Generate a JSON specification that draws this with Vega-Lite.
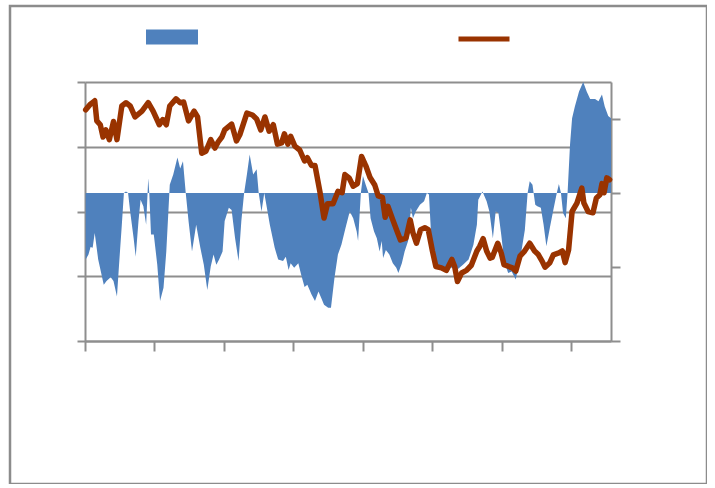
{
  "$schema": "https://vega.github.io/schema/vega-lite/v6.json",
  "width": 697,
  "height": 478,
  "autosize": {"type": "none"},
  "padding": {"left": 10, "top": 6, "right": 0, "bottom": 0},
  "background": "white",
  "config": {
    "view": {"stroke": "#8c8c8c", "strokeWidth": 2.5},
    "axis": {
      "domainColor": "#8e8e8e", "domainWidth": 2,
      "tickColor": "#8e8e8e", "tickWidth": 2,
      "gridColor": "#8e8e8e", "gridWidth": 2,
      "labels": false, "title": null
    }
  },
  "datasets": {
    "area": [
      {"t":0.01,"v":-0.90},{"t":0.05,"v":-0.83},{"t":0.08,"v":-0.73},{"t":0.11,"v":-0.74},{"t":0.14,"v":-0.54},{"t":0.19,"v":-0.90},{"t":0.27,"v":-1.24},{"t":0.31,"v":-1.19},{"t":0.37,"v":-1.14},{"t":0.41,"v":-1.19},{"t":0.46,"v":-1.40},{"t":0.49,"v":-0.97},{"t":0.53,"v":-0.43},{"t":0.56,"v":0},{"t":0.59,"v":0.02},{"t":0.62,"v":0},{"t":0.65,"v":-0.25},{"t":0.70,"v":-0.61},{"t":0.73,"v":-0.86},{"t":0.77,"v":-0.38},{"t":0.80,"v":-0.09},{"t":0.84,"v":-0.18},{"t":0.88,"v":-0.43},{"t":0.91,"v":0.20},{"t":0.925,"v":0},{"t":0.95,"v":-0.56},{"t":0.99,"v":-0.56},{"t":1.04,"v":-0.97},{"t":1.08,"v":-1.46},{"t":1.13,"v":-1.28},{"t":1.17,"v":-0.79},{"t":1.20,"v":-0.25},{"t":1.22,"v":0.11},{"t":1.27,"v":0.25},{"t":1.33,"v":0.48},{"t":1.37,"v":0.33},{"t":1.41,"v":0.43},{"t":1.45,"v":0},{"t":1.49,"v":-0.38},{"t":1.54,"v":-0.79},{"t":1.60,"v":-0.43},{"t":1.66,"v":-0.74},{"t":1.71,"v":-0.97},{"t":1.76,"v":-1.31},{"t":1.81,"v":-0.99},{"t":1.85,"v":-0.83},{"t":1.89,"v":-0.97},{"t":1.93,"v":-0.90},{"t":1.98,"v":-0.79},{"t":2.01,"v":-0.38},{"t":2.07,"v":-0.20},{"t":2.11,"v":-0.23},{"t":2.16,"v":-0.61},{"t":2.21,"v":-0.92},{"t":2.25,"v":-0.38},{"t":2.29,"v":0},{"t":2.33,"v":0.25},{"t":2.37,"v":0.52},{"t":2.42,"v":0.25},{"t":2.47,"v":0.32},{"t":2.50,"v":0},{"t":2.54,"v":-0.25},{"t":2.58,"v":0},{"t":2.61,"v":-0.16},{"t":2.66,"v":-0.43},{"t":2.73,"v":-0.74},{"t":2.78,"v":-0.90},{"t":2.85,"v":-0.92},{"t":2.89,"v":-0.86},{"t":2.93,"v":-1.04},{"t":2.96,"v":-0.95},{"t":3.01,"v":-1.01},{"t":3.07,"v":-0.95},{"t":3.11,"v":-1.10},{"t":3.16,"v":-1.27},{"t":3.20,"v":-1.24},{"t":3.26,"v":-1.37},{"t":3.31,"v":-1.46},{"t":3.36,"v":-1.33},{"t":3.40,"v":-1.42},{"t":3.44,"v":-1.51},{"t":3.50,"v":-1.55},{"t":3.54,"v":-1.55},{"t":3.59,"v":-1.15},{"t":3.64,"v":-0.83},{"t":3.69,"v":-0.70},{"t":3.75,"v":-0.47},{"t":3.81,"v":-0.25},{"t":3.86,"v":-0.34},{"t":3.91,"v":-0.52},{"t":3.93,"v":-0.65},{"t":3.97,"v":0},{"t":4.00,"v":0.23},{"t":4.04,"v":0.11},{"t":4.08,"v":0},{"t":4.11,"v":-0.34},{"t":4.16,"v":-0.52},{"t":4.20,"v":-0.61},{"t":4.24,"v":-0.79},{"t":4.27,"v":-0.65},{"t":4.29,"v":-0.88},{"t":4.33,"v":-0.77},{"t":4.38,"v":-0.83},{"t":4.43,"v":-0.95},{"t":4.48,"v":-1.01},{"t":4.51,"v":-1.08},{"t":4.56,"v":-0.95},{"t":4.60,"v":-0.79},{"t":4.65,"v":-0.65},{"t":4.69,"v":-0.20},{"t":4.72,"v":-0.34},{"t":4.76,"v":-0.25},{"t":4.82,"v":-0.16},{"t":4.88,"v":-0.11},{"t":4.92,"v":0},{"t":4.95,"v":-0.02},{"t":5.00,"v":-0.90},{"t":5.07,"v":-0.99},{"t":5.16,"v":-1.01},{"t":5.25,"v":-1.00},{"t":5.35,"v":-1.04},{"t":5.44,"v":-0.97},{"t":5.52,"v":-0.90},{"t":5.59,"v":-0.70},{"t":5.64,"v":-0.43},{"t":5.66,"v":-0.09},{"t":5.72,"v":0.02},{"t":5.78,"v":-0.11},{"t":5.82,"v":-0.25},{"t":5.87,"v":-0.61},{"t":5.91,"v":-0.25},{"t":5.95,"v":-0.27},{"t":5.99,"v":-0.56},{"t":6.02,"v":-0.81},{"t":6.05,"v":-0.97},{"t":6.09,"v":-1.08},{"t":6.14,"v":-1.06},{"t":6.20,"v":-1.17},{"t":6.24,"v":-0.97},{"t":6.28,"v":-0.79},{"t":6.33,"v":-0.50},{"t":6.37,"v":0},{"t":6.40,"v":0.16},{"t":6.44,"v":0.11},{"t":6.48,"v":-0.16},{"t":6.51,"v":-0.18},{"t":6.56,"v":-0.20},{"t":6.60,"v":-0.43},{"t":6.64,"v":-0.72},{"t":6.69,"v":-0.47},{"t":6.74,"v":-0.23},{"t":6.79,"v":0},{"t":6.82,"v":0.12},{"t":6.85,"v":0},{"t":6.88,"v":-0.27},{"t":6.92,"v":-0.34},{"t":6.945,"v":0},{"t":6.98,"v":0.65},{"t":7.01,"v":1.01},{"t":7.05,"v":1.17},{"t":7.11,"v":1.37},{"t":7.17,"v":1.50},{"t":7.22,"v":1.37},{"t":7.27,"v":1.27},{"t":7.34,"v":1.27},{"t":7.39,"v":1.24},{"t":7.44,"v":1.33},{"t":7.48,"v":1.17},{"t":7.53,"v":1.04},{"t":7.57,"v":1.01}
    ],
    "line": [
      {"t":0.01,"v":3.57},{"t":0.07,"v":3.65},{"t":0.14,"v":3.71},{"t":0.17,"v":3.40},{"t":0.22,"v":3.34},{"t":0.26,"v":3.15},{"t":0.30,"v":3.26},{"t":0.35,"v":3.11},{"t":0.41,"v":3.39},{"t":0.46,"v":3.11},{"t":0.53,"v":3.63},{"t":0.59,"v":3.68},{"t":0.65,"v":3.63},{"t":0.72,"v":3.46},{"t":0.82,"v":3.55},{"t":0.91,"v":3.68},{"t":0.98,"v":3.55},{"t":1.07,"v":3.34},{"t":1.12,"v":3.42},{"t":1.17,"v":3.34},{"t":1.22,"v":3.63},{"t":1.31,"v":3.74},{"t":1.37,"v":3.68},{"t":1.42,"v":3.69},{"t":1.49,"v":3.40},{"t":1.57,"v":3.55},{"t":1.62,"v":3.46},{"t":1.68,"v":2.90},{"t":1.74,"v":2.93},{"t":1.81,"v":3.11},{"t":1.87,"v":2.98},{"t":1.92,"v":3.08},{"t":1.97,"v":3.15},{"t":2.01,"v":3.26},{"t":2.11,"v":3.35},{"t":2.18,"v":3.09},{"t":2.23,"v":3.19},{"t":2.33,"v":3.52},{"t":2.41,"v":3.49},{"t":2.47,"v":3.43},{"t":2.53,"v":3.26},{"t":2.59,"v":3.46},{"t":2.65,"v":3.24},{"t":2.71,"v":3.34},{"t":2.77,"v":3.04},{"t":2.83,"v":3.06},{"t":2.87,"v":3.20},{"t":2.92,"v":3.04},{"t":2.96,"v":3.16},{"t":3.02,"v":3.01},{"t":3.09,"v":2.95},{"t":3.16,"v":2.78},{"t":3.20,"v":2.83},{"t":3.26,"v":2.71},{"t":3.31,"v":2.71},{"t":3.38,"v":2.31},{"t":3.44,"v":1.90},{"t":3.49,"v":2.12},{"t":3.57,"v":2.12},{"t":3.64,"v":2.31},{"t":3.70,"v":2.29},{"t":3.74,"v":2.57},{"t":3.80,"v":2.52},{"t":3.86,"v":2.39},{"t":3.92,"v":2.43},{"t":3.98,"v":2.85},{"t":4.04,"v":2.71},{"t":4.10,"v":2.53},{"t":4.17,"v":2.41},{"t":4.22,"v":2.24},{"t":4.28,"v":2.22},{"t":4.32,"v":1.91},{"t":4.36,"v":2.08},{"t":4.43,"v":1.87},{"t":4.49,"v":1.70},{"t":4.54,"v":1.56},{"t":4.62,"v":1.59},{"t":4.68,"v":1.87},{"t":4.72,"v":1.67},{"t":4.77,"v":1.51},{"t":4.83,"v":1.72},{"t":4.89,"v":1.75},{"t":4.94,"v":1.72},{"t":5.00,"v":1.39},{"t":5.05,"v":1.15},{"t":5.13,"v":1.13},{"t":5.20,"v":1.09},{"t":5.28,"v":1.26},{"t":5.32,"v":1.15},{"t":5.36,"v":0.92},{"t":5.42,"v":1.05},{"t":5.49,"v":1.09},{"t":5.56,"v":1.17},{"t":5.64,"v":1.39},{"t":5.68,"v":1.46},{"t":5.73,"v":1.58},{"t":5.78,"v":1.39},{"t":5.83,"v":1.28},{"t":5.86,"v":1.29},{"t":5.94,"v":1.51},{"t":5.99,"v":1.36},{"t":6.03,"v":1.18},{"t":6.10,"v":1.15},{"t":6.15,"v":1.13},{"t":6.20,"v":1.08},{"t":6.26,"v":1.31},{"t":6.32,"v":1.38},{"t":6.40,"v":1.51},{"t":6.47,"v":1.39},{"t":6.52,"v":1.34},{"t":6.58,"v":1.23},{"t":6.62,"v":1.14},{"t":6.69,"v":1.21},{"t":6.74,"v":1.33},{"t":6.82,"v":1.36},{"t":6.87,"v":1.39},{"t":6.91,"v":1.21},{"t":6.96,"v":1.41},{"t":7.01,"v":2.00},{"t":7.08,"v":2.13},{"t":7.15,"v":2.36},{"t":7.18,"v":2.13},{"t":7.24,"v":2.00},{"t":7.31,"v":1.98},{"t":7.36,"v":2.21},{"t":7.41,"v":2.26},{"t":7.44,"v":2.43},{"t":7.47,"v":2.29},{"t":7.51,"v":2.52},{"t":7.55,"v":2.49}
    ]
  },
  "encoding": {
    "x": {
      "field": "t", "type": "quantitative",
      "scale": {"domain": [0, 7.57], "range": [75, 601], "nice": false, "zero": false},
      "axis": {"values": [0,1,2,3,4,5,6,7], "grid": false, "offset": -143, "tickSize": 10}
    }
  },
  "layer": [
    {
      "data": {"name": "area"},
      "mark": {"type": "area", "interpolate": "linear"},
      "encoding": {
        "y": {
          "field": "v", "type": "quantitative",
          "scale": {"domain": [-2, 1.5], "range": [335, 76], "nice": false},
          "axis": {"orient": "right", "values": [-2,-1,0,1], "grid": false, "offset": -96, "tickSize": 9}
        },
        "fill": {
          "datum": "area",
          "scale": {"range": ["#4F81BD"]},
          "legend": {"orient": "none", "legendX": 136, "legendY": 5, "title": null, "labelExpr": "''", "padding": 0,
            "symbolType": "M-1,-0.29H1V0.29H-1Z", "symbolSize": 2704, "symbolStrokeWidth": 0, "symbolOpacity": 1}
        }
      }
    },
    {
      "data": {"name": "line"},
      "mark": {"type": "line", "strokeWidth": 5.5, "strokeJoin": "round", "strokeCap": "round"},
      "encoding": {
        "y": {
          "field": "v", "type": "quantitative",
          "scale": {"domain": [0, 4], "range": [335, 76], "nice": false},
          "axis": {"orient": "left", "values": [0,1,2,3,4], "grid": true, "offset": -75, "tickSize": 8}
        },
        "stroke": {
          "datum": "line",
          "scale": {"range": ["#993300"]},
          "legend": {"orient": "none", "legendX": 446, "legendY": 5, "title": null, "labelExpr": "''", "padding": 0,
            "symbolType": "stroke", "symbolSize": 2601, "symbolStrokeWidth": 5, "symbolOpacity": 1}
        }
      }
    }
  ],
  "resolve": {"scale": {"y": "independent"}}
}
